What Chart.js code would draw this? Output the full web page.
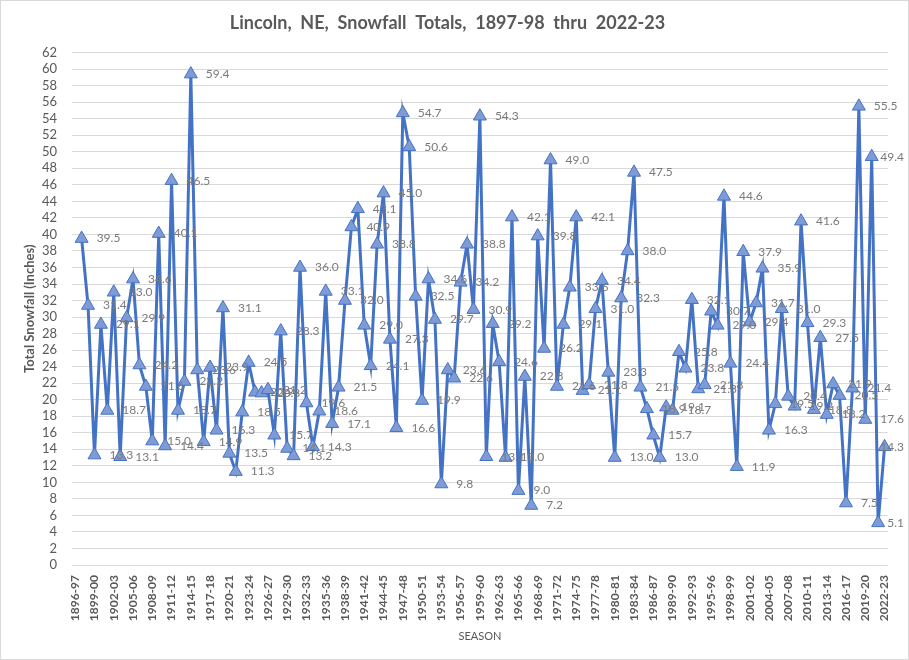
<!DOCTYPE html>
<html>
<head>
<meta charset="utf-8">
<script src="https://cdn.jsdelivr.net/npm/chart.js@4.4.1/dist/chart.umd.min.js"></script>
<style>
  html, body { margin: 0; padding: 0; background: #ffffff; }
  #wrap { width: 909px; height: 660px; position: relative; }
</style>
</head>
<body>
<div id="wrap"><canvas id="snow-chart"></canvas></div>
<script>
// seasons 1896-97 .. 2022-23 (first season has no value)
var seasons = [];
for (var y = 1896; y <= 2022; y++) {
    seasons.push(y + "-" + String((y + 1) % 100).padStart(2, "0"));
}

// total snowfall in inches
var snowfall = [null,
    39.5, 31.4, 13.3, 29.1, 18.7, 33.0, 13.1, 29.9, 34.6, 24.2,
    21.6, 15.0, 40.1, 14.4, 46.5, 18.7, 22.2, 59.4, 23.6, 14.9,
    23.9, 16.3, 31.1, 13.5, 11.3, 18.5, 24.5, 20.9, 20.8, 21.2,
    15.7, 28.3, 14.1, 13.2, 36.0, 19.6, 14.3, 18.6, 33.1, 17.1,
    21.5, 32.0, 40.9, 43.1, 29.0, 24.1, 38.8, 45.0, 27.3, 16.6,
    54.7, 50.6, 32.5, 19.9, 34.6, 29.7, 9.8, 23.6, 22.6, 34.2,
    38.8, 30.9, 54.3, 13.1, 29.2, 24.6, 13.0, 42.1, 9.0, 22.8,
    7.2, 39.8, 26.2, 49.0, 21.6, 29.1, 33.6, 42.1, 21.1, 21.8,
    31.0, 34.4, 23.3, 13.0, 32.3, 38.0, 47.5, 21.5, 18.9, 15.7,
    13.0, 19.1, 18.7, 25.8, 23.8, 32.1, 21.3, 21.8, 30.7, 29.0,
    44.6, 24.4, 11.9, 37.9, 29.4, 31.7, 35.9, 16.3, 19.5, 31.0,
    20.4, 19.2, 41.6, 29.3, 18.8, 27.5, 18.2, 21.9, 20.5, 7.5,
    21.4, 55.5, 17.6, 49.4, 5.1, 14.3
];

var greyText = "#595959";

// outer chart border
var borderBox = {
    id: "borderBox",
    afterDraw: function (chart) {
        var ctx = chart.ctx;
        ctx.save();
        ctx.strokeStyle = "#d9d9d9";
        ctx.lineWidth = 1;
        ctx.strokeRect(0.5, 0.5, chart.width - 1, chart.height - 1);
        ctx.restore();
    }
};

// value labels to the right of each marker
var valueLabels = {
    id: "valueLabels",
    afterDatasetsDraw: function (chart) {
        var ctx = chart.ctx;
        var meta = chart.getDatasetMeta(0);
        ctx.save();
        ctx.font = "12px Lato";
        ctx.fillStyle = "#7a7a7a";
        ctx.textAlign = "left";
        ctx.textBaseline = "middle";
        meta.data.forEach(function (pt, i) {
            var v = snowfall[i];
            if (v === null) return;
            var txt = v.toFixed(1);
            var w = ctx.measureText(txt).width;
            var x = pt.x + 15;
            if (x + w > chart.width - 5) x = chart.width - 5 - w;
            ctx.fillText(txt, x, pt.y);
        });
        ctx.restore();
    }
};

new Chart(document.getElementById("snow-chart"), {
    type: "line",
    data: {
        labels: seasons,
        datasets: [{
            label: "Total Snowfall",
            data: snowfall,
            borderColor: "#4472c4",
            borderWidth: 3,
            tension: 0,
            pointStyle: "triangle",
            pointRadius: 7.5,
            pointBackgroundColor: "#7f9bd6",
            pointBorderColor: "#4472c4",
            pointBorderWidth: 1
        }]
    },
    options: {
        responsive: true,
        maintainAspectRatio: false,
        animation: false,
        devicePixelRatio: 1,
        layout: { padding: { left: 0, right: 14, top: 0, bottom: 0 } },
        plugins: {
            legend: { display: false },
            tooltip: { enabled: false },
            title: {
                display: true,
                text: "Lincoln,  NE,  Snowfall  Totals,  1897-98  thru  2022-23",
                color: greyText,
                font: { family: "Lato", size: 18, weight: "bold" },
                padding: { top: 12, bottom: 19 }
            }
        },
        scales: {
            x: {
                offset: true,
                grid: { display: false, drawTicks: false },
                border: { display: false },
                ticks: {
                    autoSkip: false,
                    minRotation: 90,
                    maxRotation: 90,
                    padding: 10,
                    color: greyText,
                    font: { family: "Lato", size: 12, weight: "bold" },
                    callback: function (val, i) {
                        return i % 3 === 0 ? seasons[i] : "";
                    }
                },
                title: {
                    display: true,
                    text: "SEASON",
                    color: greyText,
                    font: { family: "Lato", size: 11 },
                    padding: { top: 0, bottom: 17 }
                },
                afterFit: function (scale) { scale.height = 95; }
            },
            y: {
                min: 0,
                max: 62,
                grid: { color: "#d9d9d9", lineWidth: 1, drawTicks: false },
                border: { display: false },
                ticks: {
                    stepSize: 2,
                    autoSkip: false,
                    padding: 15,
                    color: greyText,
                    font: { family: "Lato", size: 13 }
                },
                title: {
                    display: true,
                    text: "Total Snowfall (Inches)",
                    color: greyText,
                    font: { family: "Lato", size: 13, weight: "bold" },
                    padding: { top: 22, bottom: 0 }
                },
                afterFit: function (scale) { scale.width = 72; }
            }
        }
    },
    plugins: [borderBox, valueLabels]
});
</script>
</body>
</html>
